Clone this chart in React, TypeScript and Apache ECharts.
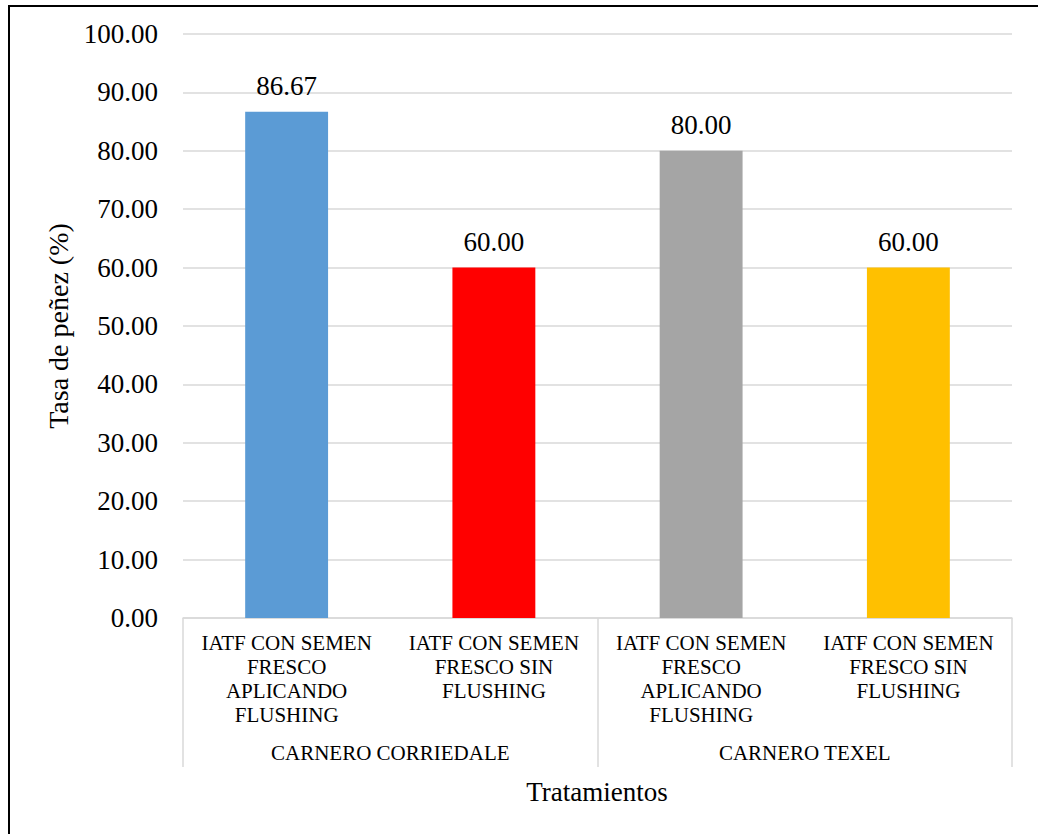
import React, { useEffect, useRef } from "react";
import * as echarts from "echarts";

const treatments = [
  "IATF CON SEMEN\nFRESCO\nAPLICANDO\nFLUSHING",
  "IATF CON SEMEN\nFRESCO SIN\nFLUSHING",
  "IATF CON SEMEN\nFRESCO\nAPLICANDO\nFLUSHING",
  "IATF CON SEMEN\nFRESCO SIN\nFLUSHING",
];
const groups = ["CARNERO CORRIEDALE", "CARNERO TEXEL"];
const values = [86.67, 60.0, 80.0, 60.0];
const barColors = ["#5B9BD5", "#FF0000", "#A5A5A5", "#FFC000"];
const yTicks = [0, 10, 20, 30, 40, 50, 60, 70, 80, 90, 100];

const FONT = "Liberation Serif";
const GRID_COLOR = "#D9D9D9";
const BIG = 27;

export default function App() {
  const ref = useRef<HTMLDivElement>(null);
  useEffect(() => {
    document.body.style.margin = "0";
    if (!ref.current) return;
    const chart = echarts.init(ref.current, null, { renderer: "svg" });
    chart.setOption({
      animation: false,
      backgroundColor: "#ffffff",
      textStyle: { fontFamily: FONT },
      grid: { left: 183, right: 26, top: 34, bottom: 216, containLabel: false },
      xAxis: [
        {
          type: "category",
          data: treatments,
          axisLine: { show: true, lineStyle: { color: GRID_COLOR, width: 1.5 } },
          axisTick: { show: false },
          axisLabel: {
            interval: 0,
            margin: 13,
            fontSize: 21,
            lineHeight: 24,
            color: "#000",
            fontFamily: FONT,
            align: "center",
          },
        },
        {
          type: "category",
          data: groups,
          position: "bottom",
          axisLine: { show: false },
          axisTick: {
            show: true,
            interval: 0,
            length: 149,
            lineStyle: { color: GRID_COLOR, width: 1.5 },
          },
          axisLabel: {
            interval: 0,
            margin: 123,
            fontSize: 21,
            lineHeight: 24,
            color: "#000",
            fontFamily: FONT,
          },
        },
      ],
      yAxis: {
        type: "value",
        min: yTicks[0],
        max: yTicks[yTicks.length - 1],
        interval: 10,
        name: "Tasa de peñez (%)",
        nameLocation: "middle",
        nameGap: 106,
        nameRotate: 90,
        nameTextStyle: { fontSize: 28, color: "#000", fontFamily: FONT },
        axisLine: { show: false },
        axisTick: { show: false },
        axisLabel: {
          margin: 25,
          fontSize: BIG,
          color: "#000",
          fontFamily: FONT,
          formatter: (v: number) => v.toFixed(2),
        },
        splitLine: { show: true, lineStyle: { color: GRID_COLOR, width: 1.5 } },
      },
      series: [
        {
          type: "bar",
          xAxisIndex: 0,
          barWidth: "40%",
          data: values.map((v, i) => ({ value: v, itemStyle: { color: barColors[i] } })),
          label: {
            show: true,
            position: "top",
            distance: 12,
            fontSize: BIG,
            color: "#000",
            fontFamily: FONT,
            formatter: (p: any) => Number(p.value).toFixed(2),
          },
        },
      ],
      graphic: [
        {
          type: "rect",
          shape: { x: 9, y: 6, width: 1200, height: 1000 },
          style: { fill: "none", stroke: "#000", lineWidth: 2 },
          silent: true,
        },
        {
          type: "text",
          x: 597,
          y: 792,
          style: {
            text: "Tratamientos",
            fontSize: BIG,
            fontFamily: FONT,
            fill: "#000",
            align: "center",
            verticalAlign: "middle",
          },
        },
      ],
    });
    return () => chart.dispose();
  }, []);
  return <div ref={ref} style={{ width: 1038, height: 834 }} />;
}
